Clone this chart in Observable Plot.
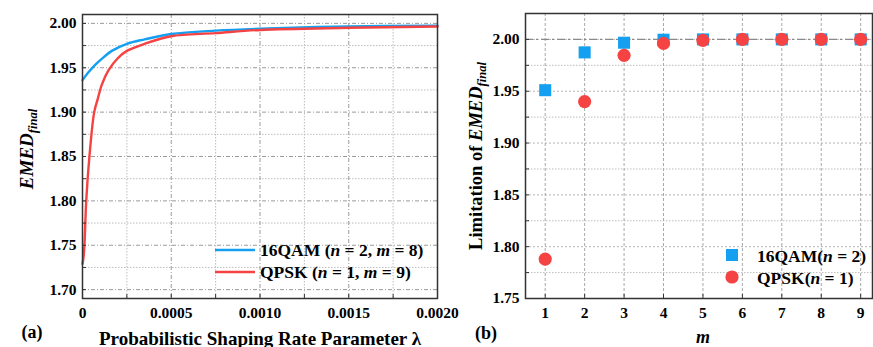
<!DOCTYPE html>
<html><head><meta charset="utf-8">
<script src="https://cdn.jsdelivr.net/npm/d3@7"></script>
<script src="https://cdn.jsdelivr.net/npm/@observablehq/plot@0.6"></script>
<style>
body{margin:0;background:#fff;}
#wrap{position:relative;width:873px;height:347px;overflow:hidden;}
#a,#b{position:absolute;top:0;}
#a{left:0;z-index:2} #b{left:440px;z-index:1}
svg{overflow:visible}
svg text{font-family:"Liberation Serif","Times New Roman",Times,serif !important;font-weight:bold;}
</style></head><body><div id="wrap"><div id="a"></div><div id="b"></div></div>
<script>
// ---- Panel (a) data ----
const lambdaQAM = [0, 0.00003, 0.00007, 0.00012, 0.000165, 0.00025, 0.00035, 0.0005, 0.00075, 0.001, 0.0015, 0.002];
const emedQAM   = [1.936, 1.944, 1.953, 1.962, 1.969, 1.977, 1.982, 1.988, 1.9918, 1.994, 1.9966, 1.9975];
const lambdaQPSK = [0, 0.000006, 0.000011, 0.000021, 0.000039, 0.000066, 0.000086, 0.000109, 0.000146, 0.0002, 0.00025, 0.00035, 0.0005, 0.00075, 0.001, 0.0015, 0.002];
const emedQPSK   = [1.729, 1.737, 1.75, 1.80, 1.85, 1.90, 1.915, 1.931, 1.947, 1.961, 1.969, 1.977, 1.9855, 1.989, 1.9926, 1.995, 1.9965];
const xTicksA = [0, 0.0005, 0.001, 0.0015, 0.002];
const xMinorA = [0.00025, 0.00075, 0.00125, 0.00175];
const yTicksA = [1.70, 1.75, 1.80, 1.85, 1.90, 1.95, 2.00];
const yMinorA = [1.725, 1.775, 1.825, 1.875, 1.925, 1.975];

// ---- Panel (b) data ----
const mVals = [1, 2, 3, 4, 5, 6, 7, 8, 9];
const limQAM  = [1.951, 1.9875, 1.9968, 1.9997, 2.0, 2.0, 2.0, 2.0, 2.0];
const limQPSK = [1.788, 1.940, 1.9846, 1.9961, 1.999, 2.0, 2.0, 2.0, 2.0];
const yTicksB = [1.75, 1.80, 1.85, 1.90, 1.95, 2.00];
const yMinorB = [1.775, 1.825, 1.875, 1.925, 1.975];
const limitLine = [2.0];

const BLUE = "#149ff0", RED = "#f54242";
const SERIF = "'Liberation Serif','Times New Roman',Times,serif";
const qamSeries = lambdaQAM.map((l, i) => ({l, v: emedQAM[i]}));
const qpskSeries = lambdaQPSK.map((l, i) => ({l, v: emedQPSK[i]}));
const qamPts = mVals.map((m, i) => ({m, v: limQAM[i]}));
const qpskPts = mVals.map((m, i) => ({m, v: limQPSK[i]}));

const baseStyle = {background: "transparent", fontFamily: SERIF, fontWeight: "bold", fontSize: "15.5px", color: "#000", overflow: "visible"};
const minorGrid = {stroke: "#bdbdbd", strokeDasharray: "1.5,1.5", strokeWidth: 1};
const majorGrid = {stroke: "#9a9a9a", strokeDasharray: "4,2,1,2", strokeWidth: 1};

const left = Plot.plot({
  width: 440, height: 347,
  marginLeft: 82, marginRight: 3, marginTop: 14, marginBottom: 49,
  style: baseStyle,
  x: {domain: [0, 0.002]},
  y: {domain: [1.69, 2.01]},
  marks: [
    Plot.ruleY(yMinorA, minorGrid),
    Plot.ruleX(xMinorA, minorGrid),
    Plot.ruleY(yTicksA, majorGrid),
    Plot.ruleX(xTicksA, majorGrid),
    Plot.line(qamSeries, {x: "l", y: "v", stroke: BLUE, strokeWidth: 2.4, curve: "catmull-rom"}),
    Plot.line(qpskSeries, {x: "l", y: "v", stroke: RED, strokeWidth: 2.4, curve: "catmull-rom"}),
    Plot.axisY({ticks: yTicksA, tickSize: 0, tickPadding: 6, tickFormat: d3.format(".2f"), label: null}),
    Plot.axisY({ticks: yTicksA.concat(yMinorA), tickSize: -4, tickFormat: () => "", label: null, stroke: "#333"}),
    Plot.axisX({ticks: xTicksA, tickSize: 0, tickPadding: 8, tickFormat: d => d === 0 ? "0" : d.toFixed(4), label: null}),
    Plot.axisX({ticks: xTicksA.concat(xMinorA), tickSize: -4, tickFormat: () => "", label: null, stroke: "#333"}),
    Plot.frame({stroke: "#333", strokeWidth: 1.5})
  ]
});

const right = Plot.plot({
  width: 433, height: 347,
  marginLeft: 85, marginRight: 1, marginTop: 13, marginBottom: 49,
  style: baseStyle,
  x: {domain: [0.5, 9.3]},
  y: {domain: [1.75, 2.025]},
  marks: [
    Plot.ruleY(yMinorB, minorGrid),
    Plot.ruleY(yTicksB, {stroke: "#b5b5b5", strokeDasharray: "2,2", strokeWidth: 1}),
    Plot.ruleX(mVals, {stroke: "#a8a8a8", strokeDasharray: "3,2", strokeWidth: 1}),
    Plot.ruleY(limitLine, {stroke: "#8a8a8a", strokeDasharray: "8,3,2,3", strokeWidth: 1.3}),
    Plot.dot(qamPts, {x: "m", y: "v", symbol: "square", r: 6.8, fill: BLUE}),
    Plot.dot(qpskPts, {x: "m", y: "v", symbol: "circle", r: 6.6, fill: RED}),
    Plot.axisY({ticks: yTicksB, tickSize: 0, tickPadding: 6, tickFormat: d3.format(".2f"), label: null}),
    Plot.axisY({ticks: yTicksB.concat(yMinorB), tickSize: -4, tickFormat: () => "", label: null, stroke: "#333"}),
    Plot.axisX({ticks: mVals, tickSize: 0, tickPadding: 8, tickFormat: d3.format("d"), label: null}),
    Plot.axisX({ticks: mVals, tickSize: -4, tickFormat: () => "", label: null, stroke: "#333"}),
    Plot.frame({stroke: "#333", strokeWidth: 1.5})
  ]
});

document.getElementById("a").appendChild(left);
document.getElementById("b").appendChild(right);

function styled(sel, size, italic) {
  return sel.style("font-family", SERIF).style("font-weight", "bold")
    .style("font-size", size).style("font-style", italic ? "italic" : "normal").attr("fill", "#000");
}
function rich(parent, x, y, parts, size, anchor) {
  const t = styled(parent.append("text"), size, false).attr("x", x).attr("y", y).attr("text-anchor", anchor || "start");
  parts.forEach(([s, it]) => t.append("tspan").style("font-style", it ? "italic" : "normal").text(s));
  return t;
}

// Panel a labels
const sa = d3.select(left);
const yl = styled(sa.append("text"), "19px", true).attr("transform", "translate(33,149) rotate(-90)").attr("text-anchor", "middle");
yl.append("tspan").text("EMED");
yl.append("tspan").style("font-size", "12.5px").attr("dy", "4").text("final");
styled(sa.append("text"), "19px", false).attr("x", 260).attr("y", 345).attr("text-anchor", "middle").text("Probabilistic Shaping Rate Parameter λ");
styled(sa.append("text"), "18px", false).attr("x", 32).attr("y", 338).attr("text-anchor", "middle").text("(a)");
// legend a
sa.append("line").attr("x1", 215).attr("x2", 255).attr("y1", 250).attr("y2", 250).attr("stroke", BLUE).attr("stroke-width", 2.6);
sa.append("line").attr("x1", 215).attr("x2", 255).attr("y1", 272).attr("y2", 272).attr("stroke", RED).attr("stroke-width", 2.6);
rich(sa, 260, 256, [["16QAM (", 0], ["n", 1], [" = 2, ", 0], ["m", 1], [" = 8)", 0]], "17.5px");
rich(sa, 260, 278, [["QPSK (", 0], ["n", 1], [" = 1, ", 0], ["m", 1], [" = 9)", 0]], "17.5px");

// Panel b labels
const sb = d3.select(right);
const yl2 = styled(sb.append("text"), "18.5px", false).attr("transform", "translate(42,156) rotate(-90)").attr("text-anchor", "middle");
yl2.append("tspan").text("Limitation of ");
yl2.append("tspan").style("font-style", "italic").text("EMED");
yl2.append("tspan").style("font-style", "italic").style("font-size", "12.5px").attr("dy", "4").text("final");
styled(sb.append("text"), "18px", true).attr("x", 263).attr("y", 343).attr("text-anchor", "middle").text("m");
styled(sb.append("text"), "18px", false).attr("x", 46).attr("y", 339).attr("text-anchor", "middle").text("(b)");
// legend b
sb.append("rect").attr("x", 286).attr("y", 249).attr("width", 12).attr("height", 12).attr("fill", BLUE);
sb.append("circle").attr("cx", 292).attr("cy", 277).attr("r", 6.6).attr("fill", RED);
rich(sb, 317, 262, [["16QAM(", 0], ["n", 1], [" = 2)", 0]], "17.5px");
rich(sb, 317, 284, [["QPSK(", 0], ["n", 1], [" = 1)", 0]], "17.5px");
</script>
</body></html>
